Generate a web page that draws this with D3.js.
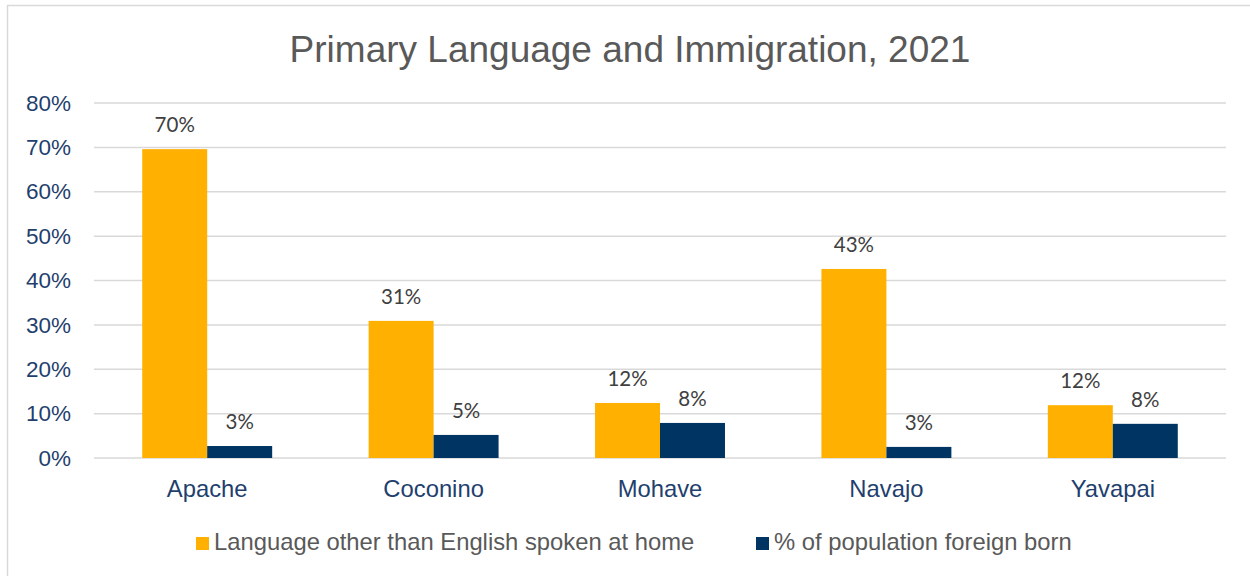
<!DOCTYPE html>
<html>
<head>
<meta charset="utf-8">
<script src="https://cdn.jsdelivr.net/npm/d3@7/dist/d3.min.js"></script>
<style>
  html, body { margin: 0; padding: 0; background: #fff; }
  svg { display: block; }
</style>
</head>
<body>
<svg id="chart" width="1250" height="576"></svg>
<script>
// County-level figures, 2021
const counties = ["Apache", "Coconino", "Mohave", "Navajo", "Yavapai"];
const languageOtherThanEnglish = [0.696, 0.309, 0.124, 0.426, 0.119];
const foreignBorn = [0.027, 0.052, 0.079, 0.025, 0.077];
const seriesNames = ["Language other than English spoken at home", "% of population foreign born"];
const yTicks = [0, 0.1, 0.2, 0.3, 0.4, 0.5, 0.6, 0.7, 0.8];

const colors = ["#FFB000", "#003462"];
const svg = d3.select("#chart");
const W = 1250, H = 576;
const margin = { left: 94, right: 24, top: 103, bottom: 118 };
const sans = "'Liberation Sans', Arial, sans-serif";

// outer frame
svg.append("rect")
  .attr("x", 7.5).attr("y", 5.5)
  .attr("width", W + 10).attr("height", H + 10)
  .attr("fill", "#fff").attr("stroke", "#D9D9D9").attr("stroke-width", 1.5);

const x0 = d3.scaleBand().domain(counties)
  .range([margin.left, W - margin.right]).paddingInner(0.426).paddingOuter(0.213);
const x1 = d3.scaleBand().domain([0, 1]).range([0, x0.bandwidth()]);
const y = d3.scaleLinear().domain([0, 0.8]).range([H - margin.bottom, margin.top]);

// gridlines
svg.append("g").selectAll("line").data(yTicks).join("line")
  .attr("x1", margin.left).attr("x2", W - margin.right)
  .attr("y1", d => y(d)).attr("y2", d => y(d))
  .attr("stroke", "#D9D9D9").attr("stroke-width", 1.5);

// y axis labels
const yAxis = d3.axisLeft(y).tickValues(yTicks).tickFormat(d3.format(".0%")).tickSize(0).tickPadding(23);
svg.append("g").attr("transform", `translate(${margin.left},0)`).call(yAxis)
  .call(g => g.select(".domain").remove())
  .selectAll("text")
  .attr("fill", "#1F3F6E")
  .style("font-family", sans)
  .style("font-size", "22.5px");

// x axis labels
const xAxis = d3.axisBottom(x0).tickSize(0).tickPadding(22);
svg.append("g").attr("transform", `translate(0,${y(0)})`).call(xAxis)
  .call(g => g.select(".domain").remove())
  .selectAll("text")
  .attr("fill", "#1F3F6E")
  .style("font-family", sans)
  .style("font-size", "23.8px");

// bars
const rows = counties.map((c, i) => ({ county: c, values: [languageOtherThanEnglish[i], foreignBorn[i]] }));
const groups = svg.append("g").selectAll("g").data(rows).join("g")
  .attr("transform", d => `translate(${x0(d.county)},0)`);

groups.selectAll("rect").data(d => d.values.map((v, k) => ({ v, k }))).join("rect")
  .attr("x", d => x1(d.k))
  .attr("width", x1.bandwidth())
  .attr("y", d => y(d.v))
  .attr("height", d => y(0) - y(d.v))
  .attr("fill", d => colors[d.k]);

// data labels
groups.selectAll("text.val").data(d => d.values.map((v, k) => ({ v, k }))).join("text")
  .attr("class", "val")
  .attr("x", d => x1(d.k) + x1.bandwidth() / 2)
  .attr("y", d => y(d.v) - 17)
  .attr("text-anchor", "middle")
  .attr("fill", "#404040")
  .style("font-family", "Lato, 'Open Sans', sans-serif")
  .style("font-size", "20.5px")
  .text(d => d3.format(".0%")(d.v));

// title
svg.append("text")
  .attr("x", 630).attr("y", 62)
  .attr("text-anchor", "middle")
  .attr("fill", "#595959")
  .style("font-family", sans)
  .style("font-size", "37px")
  .text("Primary Language and Immigration, 2021");

// legend
const legendX = [196, 756];
const legend = svg.append("g").selectAll("g").data(seriesNames).join("g")
  .attr("transform", (d, i) => `translate(${legendX[i]},537)`);
legend.append("rect").attr("width", 13).attr("height", 13)
  .attr("fill", (d, i) => colors[i]);
legend.append("text").attr("x", 18).attr("y", 13)
  .attr("fill", "#595959")
  .style("font-family", sans)
  .style("font-size", "23.8px")
  .text(d => d);
</script>
</body>
</html>
